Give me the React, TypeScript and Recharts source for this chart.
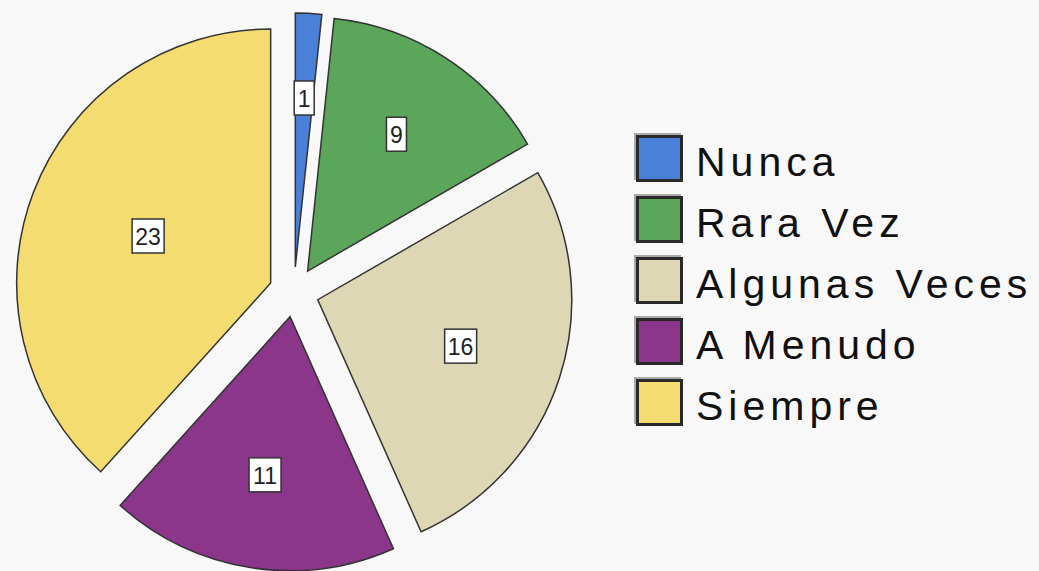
import { PieChart, Pie, Cell, Sector, Legend } from 'recharts';

const CATEGORIES = ['Nunca', 'Rara Vez', 'Algunas Veces', 'A Menudo', 'Siempre'];
const COUNTS = [1, 9, 16, 11, 23];
const COLORS = ['#4b80d8', '#5ba65b', '#ddd7b6', '#8b368b', '#f4dc70'];

const EXPLODE = 25; // every slice pulled out from the centre
const FONT = '"Liberation Sans", Arial, sans-serif';

const data = CATEGORIES.map((name, i) => ({ name, value: COUNTS[i] }));

// slice drawn shifted out along its own mid angle
const ExplodedSector = (props: any) => {
  const rad = (props.midAngle * Math.PI) / 180;
  return (
    <Sector
      {...props}
      cx={props.cx + EXPLODE * Math.cos(rad)}
      cy={props.cy - EXPLODE * Math.sin(rad)}
    />
  );
};

// boxed count placed near the centroid of the slice
const renderLabel = (props: any) => {
  const { cx, cy, midAngle, outerRadius, percent, value } = props;
  const theta = percent * 2 * Math.PI;
  const r = (4 * outerRadius * Math.sin(theta / 2)) / (3 * theta) + EXPLODE;
  const rad = (midAngle * Math.PI) / 180;
  const x = cx + r * Math.cos(rad);
  const y = cy - r * Math.sin(rad);
  const w = String(value).length > 1 ? 32 : 20;
  const h = 34;
  return (
    <g>
      <rect x={x - w / 2} y={y - h / 2} width={w} height={h} fill="#fff" stroke="#333" strokeWidth={1.5} />
      <text x={x} y={y + 1} textAnchor="middle" dominantBaseline="central" fontSize={23} fontFamily={FONT} fill="#222">
        {value}
      </text>
    </g>
  );
};

// keep the legend in slice order, not alphabetical
const LegendContent = ({ payload }: any) => {
  const items = [...(payload || [])].sort(
    (a: any, b: any) => CATEGORIES.indexOf(a.value) - CATEGORIES.indexOf(b.value)
  );
  return (
    <div>
      {items.map((entry: any) => {
        const i = CATEGORIES.indexOf(entry.value);
        return (
          <div key={`leg-${entry.value}`} style={{ display: 'flex', alignItems: 'center', height: 61 }}>
            <div
              style={{
                width: 41,
                height: 41,
                background: COLORS[i],
                border: '3px solid #2a2a2a',
                boxShadow: '-2px -2px 0 #aaa',
                marginRight: 13,
              }}
            />
            <span style={{ fontFamily: FONT, fontSize: 41, letterSpacing: 5, color: '#111', lineHeight: 1, paddingTop: 8 }}>
              {entry.value}
            </span>
          </div>
        );
      })}
    </div>
  );
};

export default function App() {
  return (
    <div style={{ position: 'absolute', left: 0, top: 0, width: 1039, height: 571, background: '#f8f8f8' }}>
      <PieChart width={1039} height={571} margin={{ top: 0, right: 0, bottom: 0, left: 0 }}>
        <Pie
          data={data}
          dataKey="value"
          nameKey="name"
          cx={294}
          cy={292}
          outerRadius={254}
          startAngle={90}
          endAngle={-270}
          stroke="#333"
          strokeWidth={1.5}
          shape={ExplodedSector}
          activeShape={ExplodedSector}
          inactiveShape={ExplodedSector}
          label={renderLabel}
          labelLine={false}
          isAnimationActive={false}
        >
          {data.map((_, i) => (
            <Cell key={`cell-${i}`} fill={COLORS[i]} />
          ))}
        </Pie>
        <Legend
          layout="vertical"
          align="right"
          verticalAlign="top"
          content={LegendContent}
          wrapperStyle={{ left: 636, top: 128, right: 'auto', width: 400 }}
        />
      </PieChart>
    </div>
  );
}
